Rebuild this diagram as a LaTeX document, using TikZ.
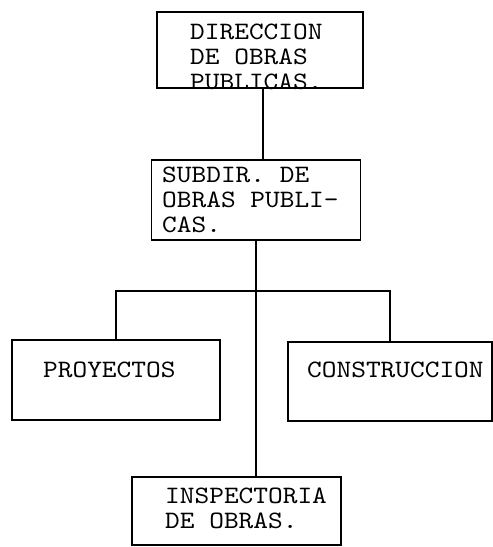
\documentclass[tikz,border=0pt]{standalone}
\usepackage{fontspec}
\setmonofont{lmmono10-regular.otf}[FakeStretch=1.12]
\begin{document}
\begin{tikzpicture}[x=1pt,y=-1pt,
    unitbox/.style={draw,line width=1.5pt,inner sep=0pt,minimum width=#1},
    boxtext/.style={anchor=north west,inner sep=0pt,align=left,
        font=\ttfamily\fontsize{25}{25}\selectfont}]
    \useasboundingbox (0,0) rectangle (493,547);
    % cajas
    \node[unitbox=206pt,minimum height=76pt] (direccion) at (260,50) {};
    \node[unitbox=209pt,minimum height=80pt] (subdir) at (256,200) {};
    \node[unitbox=208pt,minimum height=80pt] (proyectos) at (116,380) {};
    \node[unitbox=204pt,minimum height=79pt] (construccion) at (390,381.5) {};
    \node[unitbox=209pt,minimum height=68pt] (inspectoria) at (236.5,511) {};
    % textos
    \node[boxtext] (direccionText) at (190,24) {DIRECCION\\DE OBRAS\\PUBLICAS.};
    \node[boxtext] (subdirText) at (162,167) {SUBDIR. DE\\OBRAS PUBLI-\\CAS.};
    \node[boxtext] (proyectosText) at (43,362) {PROYECTOS};
    \node[boxtext] (construccionText) at (307,362) {CONSTRUCCION};
    \node[boxtext] (inspectoriaText) at (165,488) {INSPECTORIA\\DE OBRAS.};
    % lineas
    \coordinate (bus) at (subdir.south |- 0,291);
    \draw[line width=1.5pt] ([xshift=3pt]direccion.south) -- ([xshift=3pt]direccion.south |- subdir.north);
    \draw[line width=1.5pt] (subdir.south) -- (subdir.south |- inspectoria.north);
    \draw[line width=1.5pt] (proyectos.north) |- (bus) -| (construccion.north);
\end{tikzpicture}
\end{document}
